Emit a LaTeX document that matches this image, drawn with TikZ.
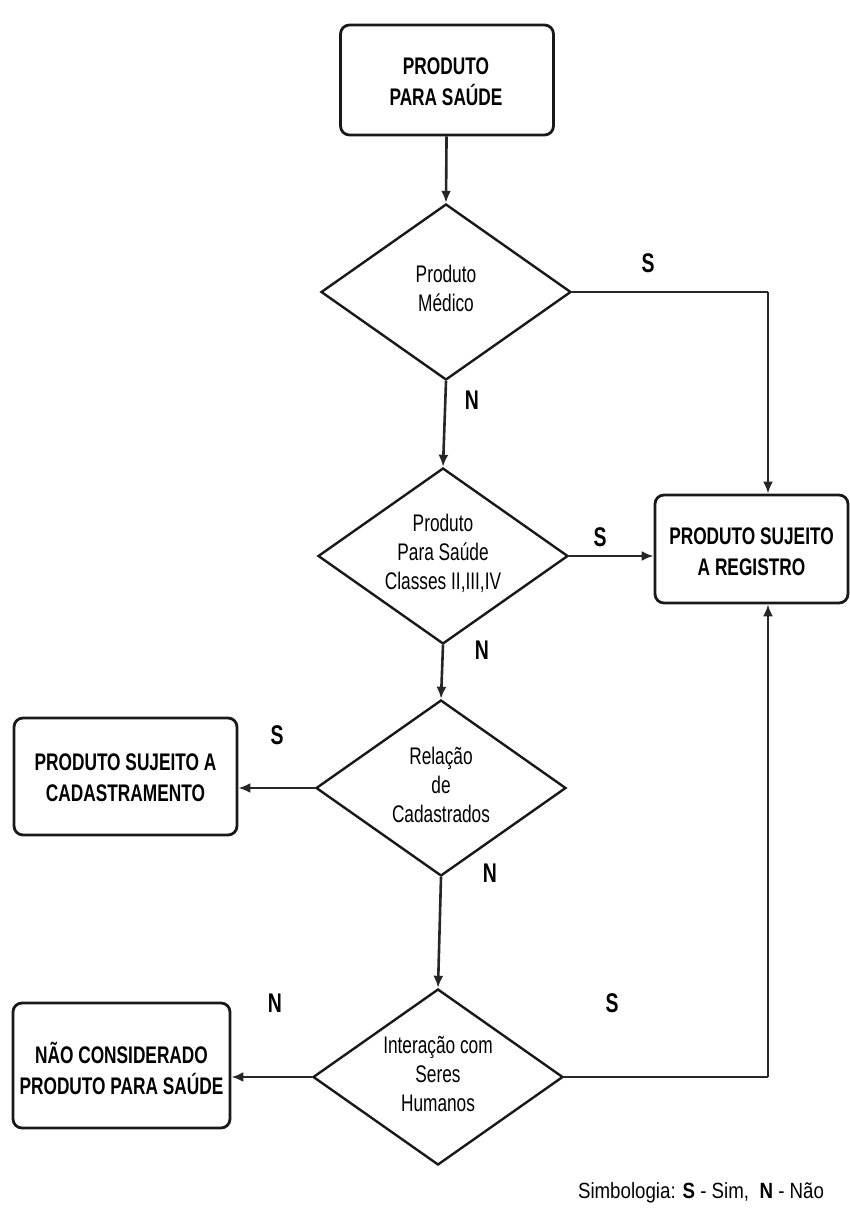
\documentclass[tikz,border=0pt]{standalone}
\usepackage{fontspec}
\setmainfont{Liberation Sans}[FakeStretch=0.72]
\newfontfamily\legfont{Liberation Sans}[FakeStretch=0.85]
\usetikzlibrary{shapes.geometric,arrows.meta}
\tikzset{
  box/.style={draw=black!90, line width=2.8pt, rounded corners=9pt, inner sep=0pt},
  dec/.style={draw=black!90, line width=2.4pt, diamond, inner sep=0pt, minimum width=250pt, minimum height=176pt},
  boxtext/.style={align=center, font=\bfseries\fontsize{24}{31}\selectfont},
  dectext/.style={align=center, font=\fontsize{24}{29}\selectfont},
  lbl/.style={font=\bfseries\fontsize{27}{27}\selectfont},
  conn/.style={draw=black!85, line width=2.6pt},
  arr/.style={conn, -{Latex[length=12pt,width=10pt]}}
}
\begin{document}
\begin{tikzpicture}[x=1pt,y=-1pt]
\useasboundingbox (0,0) rectangle (850,1210);
% boxes
\node[box, minimum width=213pt, minimum height=110pt] (b1) at (447,80) {};
\node[boxtext] (b1t) at (446,82) {PRODUTO\\PARA SAÚDE};
\node[box, minimum width=193pt, minimum height=108pt] (b2) at (751.5,549) {};
\node[boxtext] (b2t) at (751.5,552) {PRODUTO SUJEITO\\A REGISTRO};
\node[box, minimum width=223pt, minimum height=117pt] (b3) at (125.5,776.5) {};
\node[boxtext] (b3t) at (125.5,778) {PRODUTO SUJEITO A\\CADASTRAMENTO};
\node[box, minimum width=217pt, minimum height=125pt] (b4) at (121.5,1065.5) {};
\node[boxtext] (b4t) at (121.5,1068) {NÃO CONSIDERADO\\PRODUTO PARA SAÚDE};
% decisions
\node[dec] (d1) at (446,292) {};
\node[dectext] (d1t) at (446,288) {Produto\\Médico};
\node[dec] (d2) at (443,556) {};
\node[dectext] (d2t) at (443,553) {Produto\\Para Saúde\\Classes II,III,IV};
\node[dec] (d3) at (441,788) {};
\node[dectext] (d3t) at (441,785) {Relação\\de\\Cadastrados};
\node[dec] (d4) at (438,1077) {};
\node[dectext] (d4t) at (438,1074) {Interação com\\Seres\\Humanos};
% right collector line
\coordinate (rx) at (768,0);
% connectors
\draw[arr] (b1) -- (d1.north);
\draw[arr] (d1.south) -- (d2.north);
\draw[arr] (d2.south) -- (d3.north);
\draw[arr] (d3.south) -- (d4.north);
\draw[conn] (d1.east) -- (d1.east -| rx);
\draw[arr] (d1.east -| rx) -- (rx |- b2.north);
\draw[arr] (d2.east) -- (d2.east -| b2.west);
\draw[arr] (d3.west) -- (d3.west -| b3.east);
\draw[arr] (d4.west) -- (d4.west -| b4.east);
\draw[conn] (d4.east) -- (d4.east -| rx);
\draw[arr] (d4.east -| rx) -- (rx |- b2.south);
% labels
\node[lbl] (s1) at (648,263) {S};
\node[lbl] (n1) at (472,400) {N};
\node[lbl] (s2) at (600,537) {S};
\node[lbl] (n2) at (482,650) {N};
\node[lbl] (s3) at (277,735) {S};
\node[lbl] (n3) at (490,873) {N};
\node[lbl] (n4) at (275,1003) {N};
\node[lbl] (s4) at (612,1003) {S};
\node[font=\legfont\fontsize{22}{22}\selectfont] (leg) at (701,1193) {Simbologia: \textbf{S} - Sim,\ \ \textbf{N} - Não};
\end{tikzpicture}
\end{document}
